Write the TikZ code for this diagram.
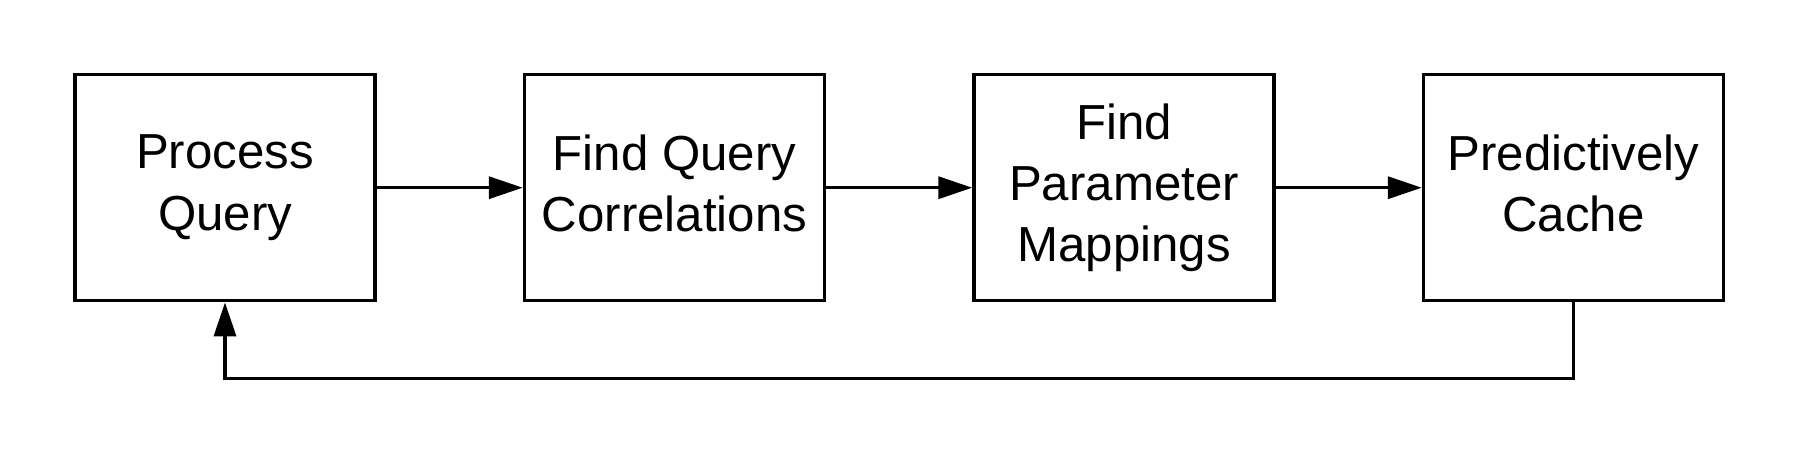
\documentclass[tikz,border=0pt]{standalone}
\usepackage{fontspec}
\setmainfont{Liberation Sans}
\usetikzlibrary{positioning,arrows.meta}

\begin{document}
\begin{tikzpicture}[
   stage/.style={draw,line width=1pt,minimum width=3cm,minimum height=2.26cm,
      align=center,inner sep=0pt,font=\fontsize{14}{17.4}\selectfont,
      execute at end node={\rule[-0.9mm]{0pt}{0pt}}},
   flow/.style={line width=1pt,-{Triangle[length=3.4mm,width=2.2mm]}}
   ]
         \useasboundingbox (0,0) rectangle (18,-4.52) ;
         \node[stage] (process) at (2.25,-1.877) {Process\\Query} ;
         \node[stage,right=1.46cm of process] (correl) {Find Query\\Correlations} ;
         \node[stage,right=1.46cm of correl] (mapping) {Find\\Parameter\\Mappings} ;
         \node[stage,right=1.46cm of mapping] (cache) {Predictively\\Cache} ;
         \draw[flow] (process) -- (correl) ;
         \draw[flow] (correl) -- (mapping) ;
         \draw[flow] (mapping) -- (cache) ;
         % feedback loop
         \draw[flow] (cache.south) -- ++(0,-0.76) -| (process.south) ;
      \end{tikzpicture}
\end{document}
